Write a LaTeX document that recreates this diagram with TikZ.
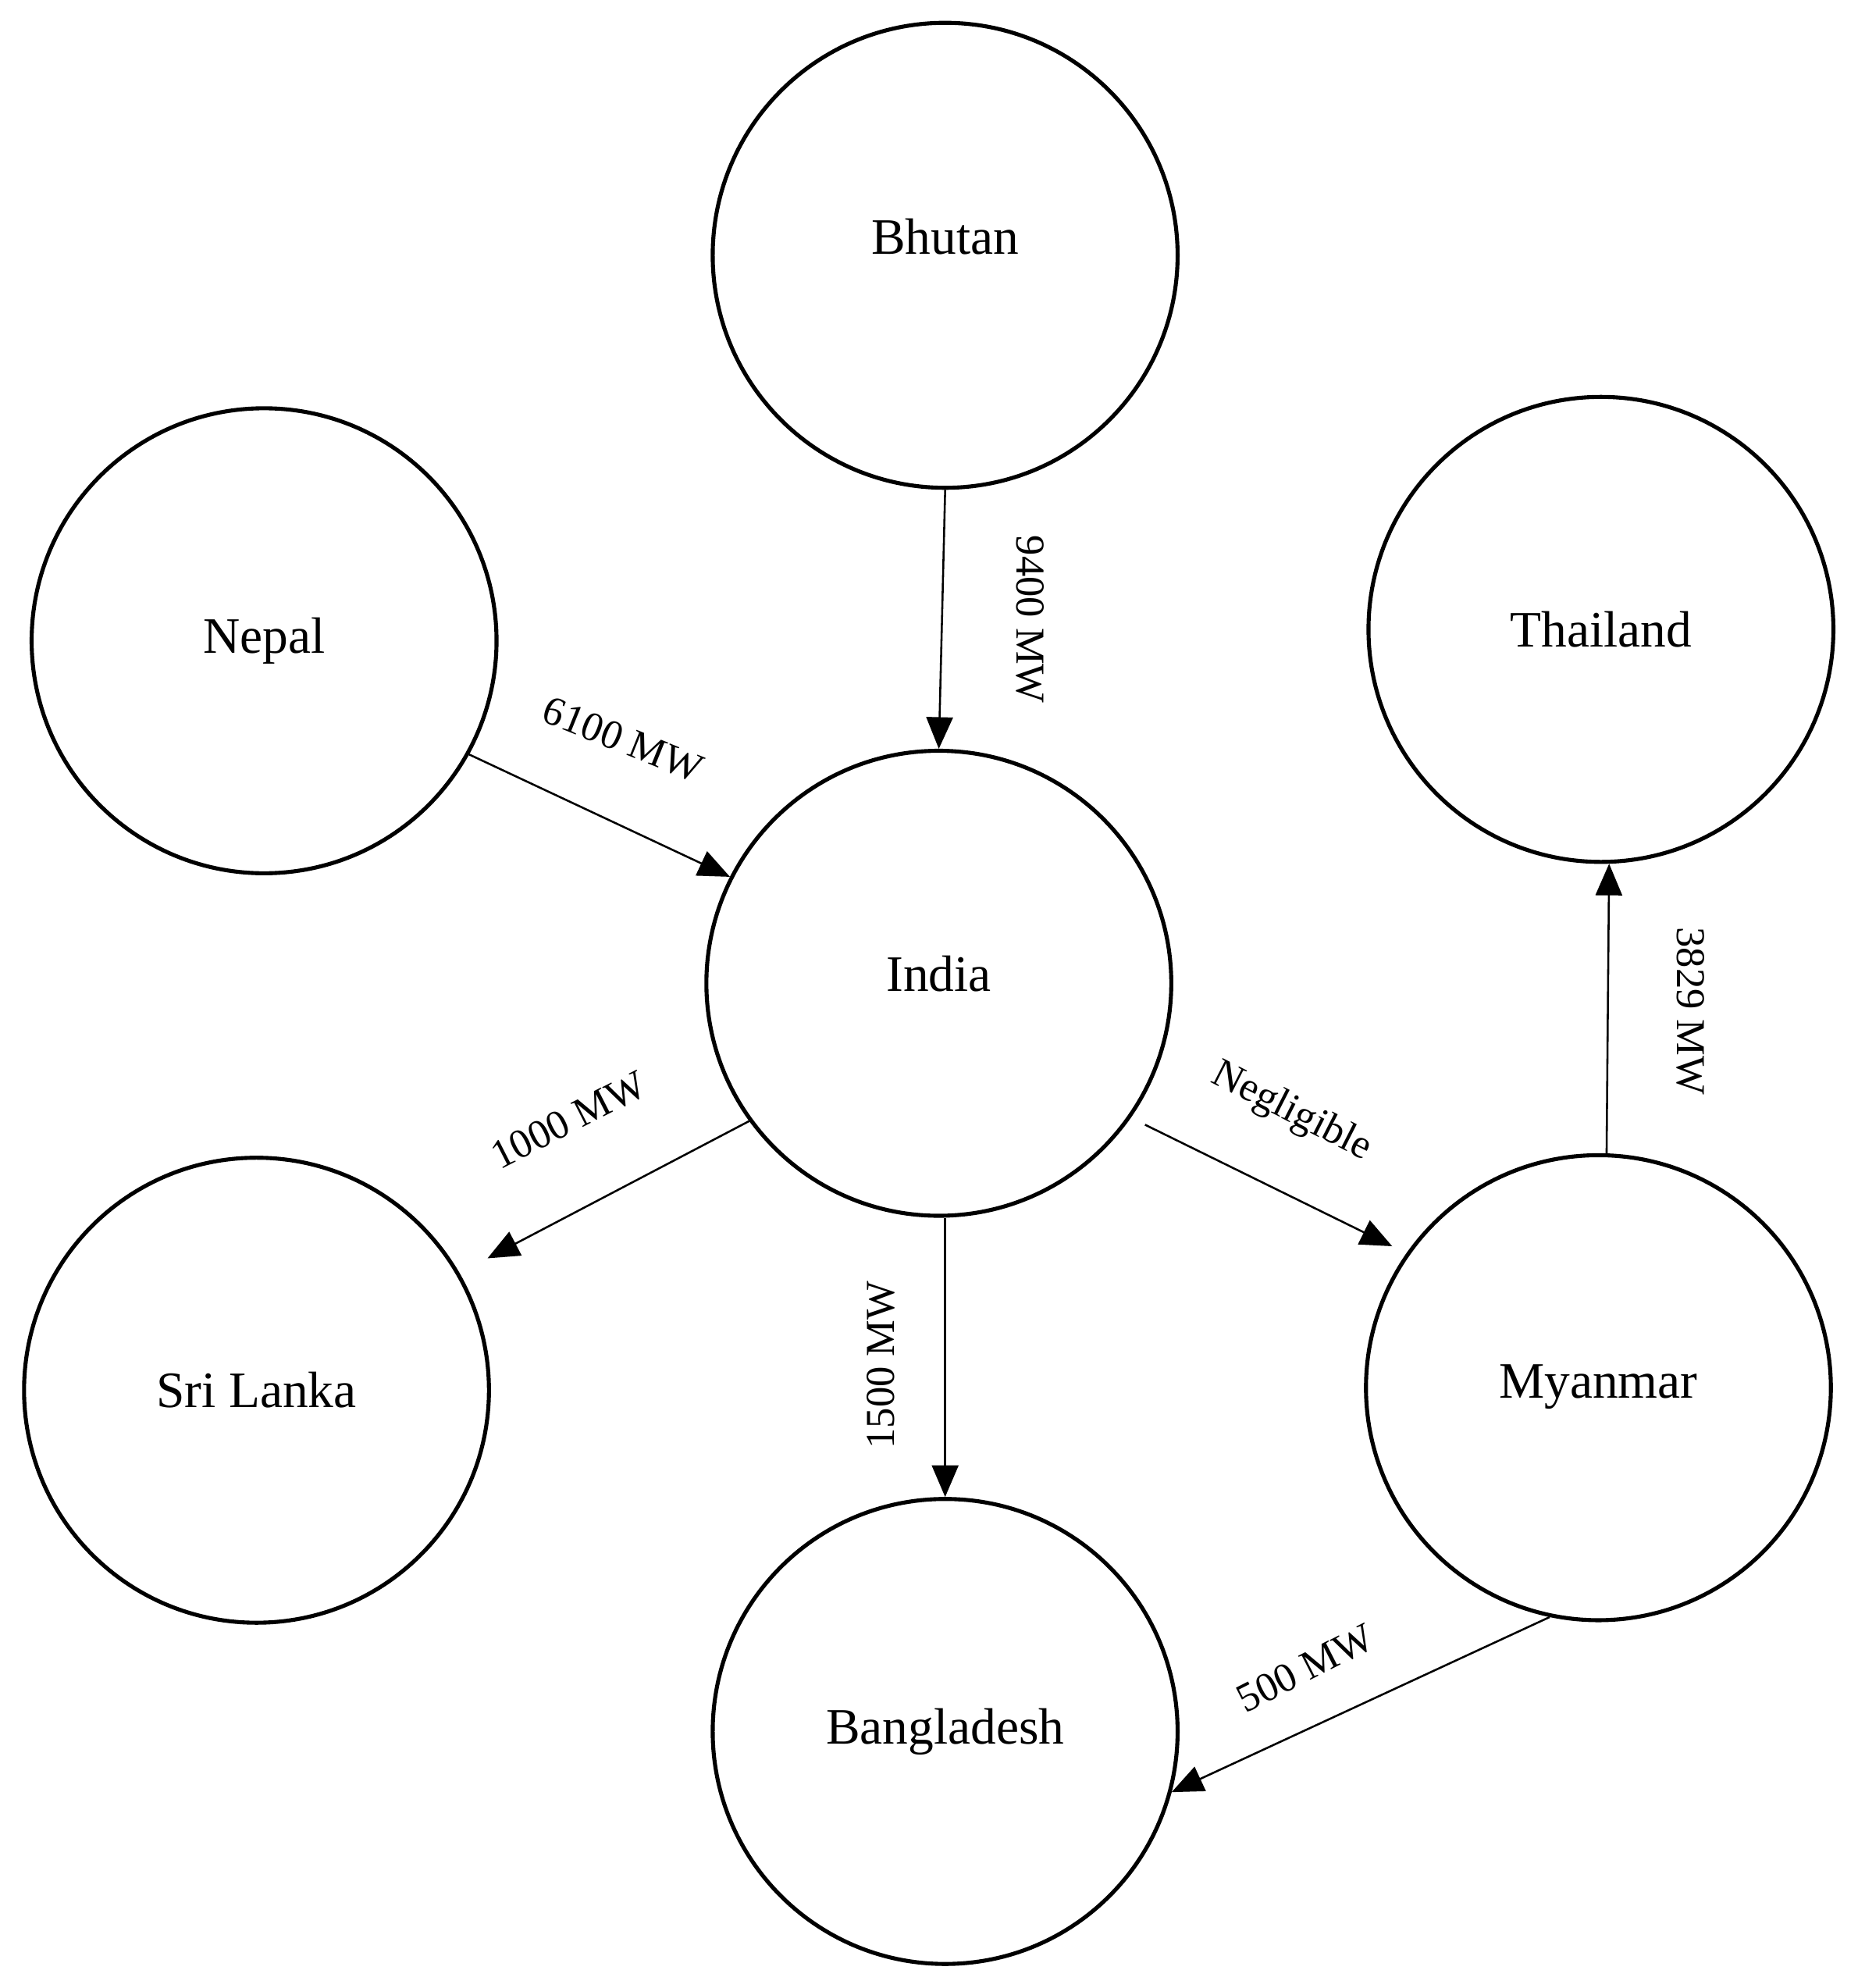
\documentclass[tikz,border=0pt]{standalone}
\usepackage{fontspec}
\setmainfont{Liberation Serif}
\usetikzlibrary{arrows.meta}

\begin{document}
\begin{tikzpicture}[x=0.02cm, y=-0.02cm,
		country/.style={draw, circle, line width=1.8pt, minimum size=7.36cm, inner sep=0pt,
			font=\fontsize{23}{27}\selectfont},
		flow/.style={line width=0.9pt, -{Triangle[length=0.5cm, width=0.42cm]}},
		amount/.style={font=\fontsize{18.5}{22}\selectfont}]

		\useasboundingbox (0,0) rectangle (1470,1573);

		\node [country] (bhutan) at (748,202) {\raisebox{0.6cm}{Bhutan}};
		\node [country] (nepal) at (209,507) {Nepal};
		\node [country] (thailand) at (1267,498) {Thailand};
		\node [country] (india) at (743,778) {\raisebox{0.3cm}{India}};
		\node [country] (srilanka) at (203,1100) {Sri Lanka};
		\node [country] (myanmar) at (1265,1098) {\raisebox{0.2cm}{Myanmar}};
		\node [country] (bangladesh) at (748,1370) {Bangladesh};

		\draw [flow] (bhutan.south) -- (india.north);
		\draw [flow] (nepal.-29) -- (india.153);
		\draw [flow, shorten >=0.5cm] (india.216) -- (srilanka.30);
		\draw [flow] (india.south -| bangladesh.north) -- (bangladesh.north);
		\draw [flow, shorten <=0.25cm, shorten >=0.25cm] (india.-35) -- (myanmar.145);
		\draw [flow] (myanmar.88) -- (thailand.-88);
		\draw [flow] (myanmar.258) -- (bangladesh.-15);

		\node [amount, rotate=-90] (l1) at (815,490) {9400 MW};
		\node [amount, rotate=-22] (l2) at (493,585) {6100 MW};
		\node [amount, rotate=27] (l3) at (450,886) {1000 MW};
		\node [amount, rotate=90] (l4) at (697,1080) {1500 MW};
		\node [amount, rotate=-27] (l5) at (1022,880) {Negligible};
		\node [amount, rotate=-90] (l6) at (1338,800) {3829 MW};
		\node [amount, rotate=27] (l7) at (1033,1320) {500 MW};

\end{tikzpicture}
\end{document}
